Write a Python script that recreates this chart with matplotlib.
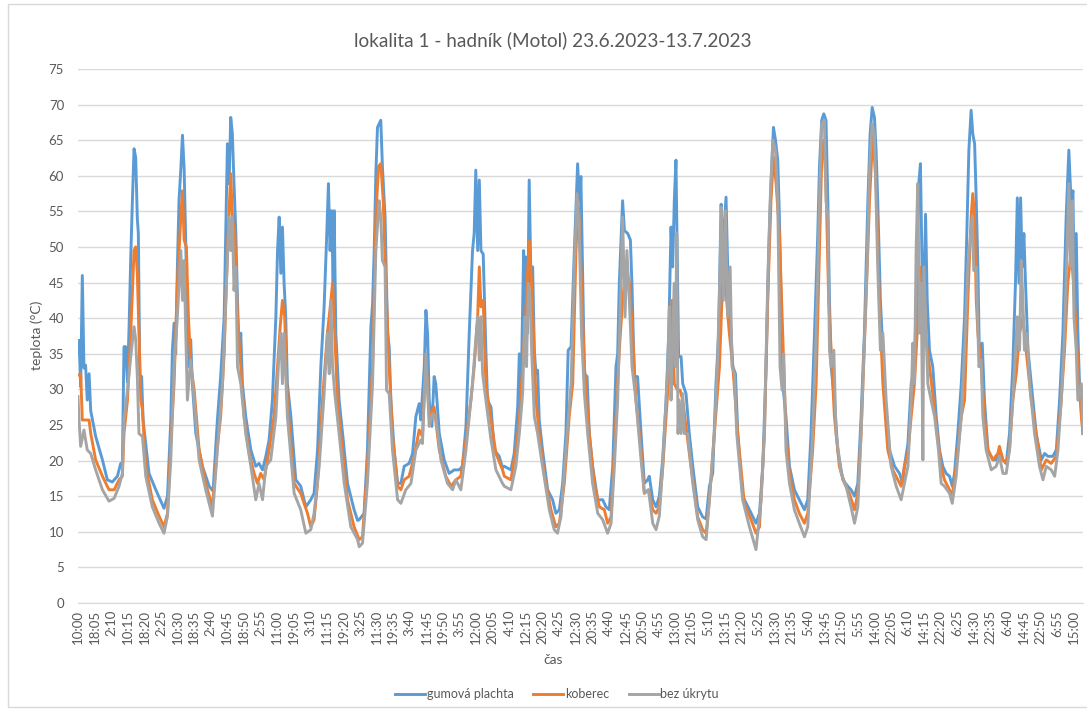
import matplotlib
matplotlib.use("Agg")
import matplotlib.pyplot as plt
from matplotlib.patches import Rectangle

# hours since 23.6.2023 10:00 , temperature in deg C
gumova = [
    (0.0, 35.5), (0.5, 36.9), (1.3, 30.4), (2.1, 46.0), (2.9, 33.0), (3.7, 33.4), (4.5, 28.5), (5.4, 32.2),
    (6.2, 27.0), (8.6, 23.4), (11.9, 20.1), (14.3, 17.3), (16.7, 17.0), (19.2, 17.8), (20.8, 19.6), (21.6, 19.2),
    (22.4, 36.0), (23.2, 36.0), (24.1, 31.0), (24.9, 39.0), (25.7, 48.6), (26.5, 56.5), (27.3, 63.8), (28.1, 62.6),
    (28.9, 54.0), (29.4, 51.9), (30.1, 32.0), (31.0, 31.8), (31.7, 25.7), (34.6, 18.2), (37.9, 15.9), (41.9, 13.3),
    (43.6, 15.0), (45.2, 25.7), (46.0, 35.5), (46.8, 39.3), (47.6, 35.0), (48.4, 47.0), (49.2, 56.5), (50.1, 61.0),
    (50.9, 65.7), (51.7, 61.0), (52.5, 50.5), (53.3, 38.8), (54.1, 33.2), (54.9, 37.0), (55.7, 30.8), (57.4, 23.8),
    (60.6, 19.2), (63.9, 16.4), (65.8, 15.7),
    (67.9, 25.7), (69.5, 31.8), (71.2, 40.2), (72.8, 64.5), (73.6, 58.9), (74.4, 68.2), (75.2, 65.9), (76.0, 58.9),
    (76.9, 51.9), (77.7, 42.5), (78.5, 35.0), (79.3, 37.9), (80.1, 30.8), (81.7, 26.2), (84.2, 21.5), (86.6, 19.2),
    (88.2, 19.6), (89.9, 18.7), (91.5, 20.6), (93.1, 22.9), (94.7, 28.5), (96.4, 40.2), (97.2, 49.5), (98.0, 54.2),
    (98.8, 46.3), (99.6, 52.8), (100.4, 44.9), (101.2, 40.2), (102.0, 30.8), (103.7, 26.2), (106.1, 17.3),
    (108.5, 16.4), (111.0, 13.5), (113.4, 14.5), (115.0, 15.4), (116.7, 21.5), (118.3, 33.2), (119.9, 41.6),
    (121.2, 51.9), (122.0, 58.9), (122.8, 49.5), (123.5, 55.1), (124.3, 44.9), (124.8, 55.1), (125.6, 37.9),
    (127.2, 28.5), (128.9, 23.8), (131.3, 16.8), (134.5, 13.1), (136.2, 11.6),
    (137.0, 11.7), (139.4, 12.6), (141.0, 21.5), (142.7, 38.8), (143.5, 42.0), (144.3, 49.5), (145.1, 60.3),
    (145.9, 66.8), (146.7, 67.3), (147.5, 67.8), (148.3, 61.3), (149.6, 54.2), (150.8, 37.9), (151.6, 36.0),
    (152.4, 28.5), (154.0, 21.5), (155.7, 16.8), (157.3, 16.8), (158.9, 19.2), (161.3, 19.6), (163.0, 21.0),
    (164.6, 26.2), (166.2, 28.0), (167.0, 25.7), (168.7, 33.2), (169.5, 41.1), (170.3, 37.9), (171.1, 28.5),
    (172.4, 24.8), (173.5, 31.8), (174.3, 30.8), (176.0, 23.8), (178.4, 20.1), (180.8, 18.2), (183.3, 18.7),
    (185.7, 18.7), (187.3, 19.2), (189.0, 24.8), (190.6, 37.9), (192.2, 49.5), (193.0, 51.9), (193.8, 60.8),
    (194.7, 49.5), (195.5, 59.4), (196.3, 49.5), (197.4, 49.0), (198.7, 35.5), (199.5, 28.5), (201.2, 27.5),
    (202.8, 21.5), (205.2, 20.6), (206.8, 19.0),
    (207.7, 19.2), (210.9, 18.7), (212.5, 21.0), (214.2, 27.5), (215.0, 35.0), (215.8, 28.5), (217.1, 49.5),
    (217.7, 40.2), (218.2, 48.6), (219.0, 37.9), (219.8, 59.4), (220.7, 44.9), (221.5, 47.2), (222.3, 35.5),
    (223.1, 32.2), (223.9, 32.7), (224.7, 25.7), (226.3, 21.5), (228.8, 15.9), (231.2, 14.5), (232.8, 12.6),
    (234.5, 13.1), (236.1, 16.8), (237.7, 23.8), (238.8, 35.5), (240.2, 36.0), (241.8, 49.5), (242.6, 55.6),
    (243.4, 61.7), (244.2, 56.5), (245.0, 59.9), (245.8, 47.2), (246.7, 32.2), (248.0, 31.8), (249.1, 23.8),
    (250.7, 19.2), (253.2, 14.5), (255.6, 14.5), (257.2, 13.5), (258.8, 13.1), (260.5, 19.2), (262.1, 33.2),
    (262.9, 35.0), (263.7, 44.9), (265.3, 56.5), (266.2, 52.3), (267.8, 51.9), (269.1, 51.0), (269.9, 44.5),
    (271.0, 31.8), (272.6, 31.8), (274.3, 23.8), (275.9, 16.8), (277.5, 17.3), (278.3, 17.8),
    (280.0, 14.5), (281.6, 13.5), (283.2, 15.0), (284.8, 20.1), (286.5, 28.5), (287.8, 37.9), (288.9, 52.8),
    (289.7, 47.2), (290.5, 56.5), (291.3, 62.2), (291.8, 51.9), (292.6, 34.6), (293.8, 34.6), (294.6, 30.8),
    (296.2, 29.4), (297.8, 23.8), (299.5, 19.2), (301.9, 13.5), (304.3, 12.1), (306.0, 11.8), (307.6, 16.4),
    (309.2, 18.2), (310.8, 30.8), (312.1, 37.9), (313.3, 56.0), (314.1, 49.5), (315.7, 57.0), (316.5, 47.2),
    (317.3, 42.5), (319.0, 33.2), (320.3, 32.2), (321.4, 23.8), (323.8, 15.0), (327.1, 13.1), (330.3, 11.2),
    (332.0, 12.6), (333.6, 19.2), (335.2, 33.2), (336.5, 49.5), (337.6, 58.9), (338.8, 66.8), (339.8, 65.0),
    (340.9, 62.2), (341.7, 54.2), (342.5, 42.5), (343.3, 30.8), (344.9, 26.2), (346.6, 19.2), (349.0, 15.9),
    (351.4, 14.5), (353.9, 13.1), (355.5, 14.5), (357.1, 23.8), (358.8, 37.9), (360.4, 51.9), (361.2, 61.2),
    (362.3, 67.8), (363.3, 68.7), (364.4, 67.8), (365.3, 56.5), (366.1, 42.5), (366.9, 33.2), (368.5, 28.5),
    (370.1, 21.5), (372.6, 17.3), (375.0, 16.4), (376.6, 15.9), (378.3, 15.0), (379.9, 16.8), (381.5, 26.2),
    (383.1, 37.9), (384.8, 56.5), (385.9, 65.9), (386.9, 69.6), (388.0, 68.2), (388.8, 63.6), (389.6, 56.5),
    (390.9, 42.5), (392.1, 35.5), (393.7, 26.2), (395.3, 21.5), (397.8, 19.2), (400.2, 18.2), (401.8, 16.8),
    (402.6, 19.2), (404.3, 22.4), (405.9, 30.8), (407.5, 33.2), (408.8, 47.2), (409.6, 58.9), (410.4, 61.7),
    (411.2, 47.2), (412.1, 42.5), (412.9, 54.6), (413.7, 42.5), (414.8, 35.5), (416.4, 33.2), (418.1, 26.2),
    (419.7, 21.5),
    (421.3, 19.2), (422.9, 18.2), (424.6, 17.8), (425.9, 16.4), (427.0, 18.2), (428.6, 23.8), (430.3, 30.8),
    (431.9, 40.2), (433.0, 51.9), (434.0, 63.6), (435.1, 69.2), (435.9, 65.9), (436.8, 64.5), (437.6, 56.5),
    (438.4, 47.2), (439.2, 33.2), (440.5, 36.5), (441.6, 28.5), (443.3, 21.5), (445.7, 20.1), (447.3, 20.1),
    (448.9, 21.5), (450.6, 20.1), (452.2, 19.6), (453.8, 23.8), (455.4, 33.2), (456.7, 44.9), (457.6, 56.9),
    (458.4, 44.9), (459.2, 56.9), (460.0, 47.2), (460.8, 51.9), (461.6, 44.9), (462.8, 35.5), (464.4, 30.8),
    (466.8, 23.8), (469.3, 20.1), (470.9, 21.0), (472.5, 20.6), (474.9, 20.6), (476.6, 21.5), (478.2, 28.5),
    (479.8, 37.9), (481.4, 54.2), (482.7, 63.6), (483.9, 55.6), (484.7, 57.9), (485.5, 40.2), (486.3, 51.9),
    (487.1, 37.9), (487.9, 30.8), (489.6, 23.8),
]

koberec = [
    (0.0, 32.0), (1.3, 32.2), (2.1, 25.7), (3.7, 25.7), (5.4, 25.7), (6.2, 23.8), (8.6, 20.1), (11.9, 17.8),
    (15.1, 15.9), (17.6, 15.9), (20.0, 17.3), (21.6, 17.8), (22.4, 23.8), (24.1, 28.5), (25.7, 37.9), (27.3, 49.5),
    (28.1, 50.0), (28.9, 46.3), (29.7, 37.9), (30.6, 28.5), (31.4, 27.1), (33.0, 19.2), (36.2, 14.5), (39.5, 12.2),
    (41.9, 10.7), (43.6, 12.6), (45.2, 22.4), (46.8, 30.8), (48.4, 44.9), (50.1, 54.2), (50.9, 57.9), (51.7, 51.0),
    (52.8, 50.0), (53.8, 40.2), (54.9, 33.6), (56.6, 29.9), (59.0, 21.5), (62.2, 16.8), (65.5, 13.5),
    (67.9, 22.0), (69.5, 26.2), (71.2, 35.0), (72.8, 49.5), (74.4, 60.3), (75.2, 54.2), (76.4, 51.9), (77.7, 40.2),
    (79.3, 33.2), (80.9, 26.2), (83.4, 21.0), (85.8, 18.2), (87.4, 16.8), (89.0, 18.2), (90.7, 17.3), (93.1, 21.5),
    (95.5, 26.2), (97.2, 33.2), (98.5, 38.8), (99.6, 42.5), (100.7, 40.2), (102.0, 28.5), (105.3, 16.8),
    (108.5, 15.4), (111.8, 12.6), (113.4, 10.7), (115.0, 11.7), (116.7, 16.8), (119.1, 28.5), (121.5, 37.9),
    (123.2, 42.5), (124.0, 44.9), (125.1, 37.9), (126.4, 28.5), (128.0, 23.8), (131.3, 14.5), (134.5, 10.7),
    (136.2, 9.5),
    (137.0, 8.9), (138.6, 9.3), (141.0, 19.2), (143.5, 33.2), (145.1, 54.2), (146.4, 61.3), (147.5, 61.7),
    (148.7, 56.5), (150.0, 44.9), (151.6, 33.2), (153.2, 23.8), (155.7, 16.4), (157.3, 15.9), (158.9, 17.3),
    (161.3, 17.8), (163.8, 20.6), (166.2, 24.3), (167.8, 23.4), (169.5, 34.6), (171.1, 26.2), (173.5, 27.5),
    (176.0, 21.5), (179.2, 17.8), (181.7, 16.4), (184.1, 17.3), (186.5, 17.8), (189.0, 22.9), (191.4, 28.5),
    (193.0, 33.2), (194.7, 40.2), (195.5, 47.2), (196.3, 41.6), (197.4, 42.5), (198.7, 30.8), (201.2, 25.7),
    (203.6, 21.0), (206.8, 18.7),
    (207.7, 17.8), (210.9, 17.3), (213.3, 21.5), (215.0, 25.7), (216.6, 33.2), (218.2, 41.1), (219.8, 50.9),
    (220.7, 46.3), (221.9, 37.9), (223.1, 28.5), (224.7, 23.8), (227.1, 18.2), (230.4, 13.1), (232.8, 10.7),
    (234.5, 11.2), (236.9, 16.8), (239.3, 26.2), (241.0, 30.8), (242.6, 49.5), (243.7, 56.5), (245.0, 47.2),
    (246.7, 33.2), (249.1, 23.8), (251.5, 16.8), (254.0, 13.5), (256.4, 13.1), (258.0, 11.2), (259.7, 12.1),
    (261.3, 21.5), (263.7, 35.5), (265.3, 42.5), (267.0, 47.2), (268.6, 44.9), (270.2, 37.9), (271.8, 28.5),
    (274.3, 21.5), (275.9, 15.4), (277.9, 15.9),
    (280.0, 13.1), (281.6, 12.6), (283.2, 13.5), (284.8, 18.7), (286.5, 26.2), (288.1, 33.2), (289.4, 42.5),
    (290.5, 30.8), (292.1, 29.9), (293.3, 29.9), (294.6, 28.5), (296.2, 24.8), (298.6, 19.2), (301.9, 12.1),
    (304.3, 10.3), (306.0, 9.8), (307.6, 14.5), (310.0, 23.8), (312.5, 33.2), (313.8, 43.5), (314.9, 51.9),
    (316.0, 42.5), (317.3, 37.9), (319.0, 33.2), (321.4, 23.8), (324.6, 14.0), (327.9, 11.7), (330.3, 9.8),
    (332.0, 10.7), (334.4, 23.8), (336.0, 42.5), (337.6, 56.5), (338.8, 62.6), (340.1, 58.9), (341.7, 51.9),
    (343.3, 37.9), (344.9, 23.8), (346.6, 18.2), (349.0, 14.5),
    (351.4, 12.6), (353.9, 11.2), (355.5, 12.6), (357.9, 21.5), (359.6, 30.8), (361.2, 49.5), (362.3, 62.2),
    (363.3, 65.0), (364.4, 58.9), (365.7, 42.5), (366.9, 35.5), (368.5, 26.2), (370.9, 19.2), (373.4, 16.8),
    (375.8, 15.4), (378.3, 13.1), (379.9, 15.4), (381.5, 23.8), (383.9, 42.5), (385.6, 56.5), (387.2, 65.9),
    (388.8, 58.9), (390.4, 42.5), (392.1, 30.8), (394.5, 21.5), (396.9, 18.7), (399.4, 17.3), (401.0, 16.4),
    (402.6, 19.2), (404.3, 21.0), (405.9, 26.2), (407.5, 30.8), (408.8, 37.9), (410.0, 47.2), (411.1, 42.5),
    (412.7, 37.9), (414.8, 33.2), (416.4, 29.4), (418.1, 24.8), (420.5, 19.2),
    (422.1, 17.3), (424.6, 15.9), (425.9, 15.0), (427.8, 19.2), (430.3, 26.2), (431.9, 28.5), (433.5, 42.5),
    (435.1, 54.2), (435.9, 57.5), (436.8, 54.2), (437.6, 42.5), (438.4, 37.9), (440.0, 33.2), (441.6, 26.2),
    (443.3, 21.5), (445.7, 20.1), (448.1, 21.0), (448.9, 22.0), (450.6, 20.1), (452.2, 19.6), (453.8, 21.5),
    (455.4, 28.5), (457.1, 32.2), (458.7, 37.9), (460.3, 40.2), (461.9, 35.5), (464.4, 28.5), (466.8, 23.8),
    (469.3, 18.7), (471.7, 20.1), (474.1, 19.6), (476.6, 20.6), (479.0, 28.5), (480.6, 35.5), (482.2, 44.9),
    (483.9, 49.5), (485.5, 42.5), (487.1, 33.2), (488.8, 26.2), (489.6, 23.8),
]

bez_ukrytu = [
    (0.0, 29.0), (0.5, 25.7), (0.9, 23.8), (1.3, 22.0), (2.9, 24.3), (4.5, 21.5), (6.2, 21.0), (8.6, 18.7),
    (11.9, 15.9), (15.1, 14.3), (17.6, 14.7), (20.0, 16.4), (21.6, 18.2), (22.4, 25.7), (24.1, 29.9), (25.7, 34.6),
    (27.3, 38.8), (28.1, 37.0), (28.9, 31.8), (29.7, 23.8), (31.4, 23.4), (33.0, 17.8), (36.2, 13.5), (39.5, 11.2),
    (41.9, 9.8), (43.6, 12.2), (45.2, 20.1), (46.8, 33.2), (48.4, 40.2), (50.1, 49.5), (50.9, 42.5), (51.7, 48.1),
    (52.5, 37.9), (53.3, 28.5), (54.9, 34.1), (56.6, 28.5), (59.0, 20.1), (62.2, 15.9), (65.5, 12.2),
    (67.9, 21.5), (70.4, 30.8), (72.0, 42.5), (73.6, 54.2), (74.4, 49.5), (75.2, 54.2), (76.0, 43.9), (76.9, 47.2),
    (77.7, 33.2), (79.3, 30.8), (81.7, 23.8), (84.2, 19.2), (86.6, 14.5), (88.2, 16.8), (89.9, 14.5), (91.5, 19.2),
    (93.9, 20.1), (96.4, 26.2), (98.0, 35.5), (98.8, 37.9), (99.6, 30.8), (100.4, 37.9), (102.0, 26.2),
    (105.3, 15.4), (108.5, 13.1), (111.0, 9.8), (113.4, 10.3), (115.0, 12.6), (117.5, 19.2), (119.9, 29.4),
    (121.5, 37.9), (122.4, 32.2), (123.2, 42.5), (124.0, 33.2), (125.1, 29.4), (127.2, 23.8), (129.7, 16.8),
    (132.9, 10.7), (136.2, 8.9),
    (137.0, 7.9), (138.6, 8.4), (141.0, 16.8), (143.5, 30.8), (145.1, 49.5), (146.7, 56.5), (147.5, 54.2),
    (148.3, 48.1), (149.6, 47.2), (150.3, 29.9), (151.6, 29.4), (153.2, 21.5), (155.7, 14.5), (157.3, 14.0),
    (159.7, 15.9), (162.2, 16.8), (164.6, 21.5), (167.0, 22.9), (167.8, 22.4), (169.5, 35.0), (171.1, 24.8),
    (172.7, 26.6), (174.3, 26.2), (176.8, 20.1), (180.0, 16.8), (182.5, 15.9), (184.1, 17.3), (186.5, 15.9),
    (189.0, 21.5), (190.6, 26.2), (192.2, 30.8), (193.8, 37.0), (194.7, 40.2), (195.5, 34.1), (196.3, 40.2),
    (197.1, 32.2), (198.7, 28.5), (201.2, 22.9), (203.6, 18.7), (206.8, 16.8),
    (207.7, 16.4), (210.9, 15.9), (213.3, 19.2), (215.0, 23.8), (216.6, 29.4), (217.7, 40.2), (218.5, 33.2),
    (219.4, 44.9), (220.3, 42.5), (221.0, 35.5), (222.3, 26.2), (223.9, 23.8), (226.3, 19.2), (229.6, 13.1),
    (232.0, 10.3), (233.6, 9.8), (235.3, 12.2), (237.7, 21.5), (240.2, 30.8), (241.8, 47.2), (243.1, 57.5),
    (244.2, 51.9), (245.3, 37.9), (246.7, 29.4), (248.3, 23.8), (250.7, 16.8), (253.2, 12.6), (255.6, 11.7),
    (258.0, 9.8), (259.7, 11.2), (261.3, 19.2), (262.9, 28.5), (264.5, 44.9), (265.3, 54.2), (266.5, 40.2),
    (267.4, 49.5), (268.6, 42.5), (269.9, 33.2), (271.8, 28.5), (274.3, 20.1), (275.9, 15.4), (277.9, 15.9),
    (280.0, 11.2), (281.6, 10.3), (283.2, 12.2), (284.8, 19.2), (286.5, 28.5), (287.3, 33.2), (288.1, 41.6),
    (288.9, 28.5), (289.7, 37.9), (290.5, 44.9), (291.0, 33.2), (291.7, 51.9), (292.3, 23.8), (292.9, 28.5),
    (293.8, 23.8), (294.6, 29.4), (295.4, 23.8), (297.0, 23.8), (299.5, 16.8), (301.9, 11.7), (304.3, 9.3),
    (306.0, 8.9), (307.6, 14.5), (310.0, 23.8), (311.6, 34.1), (312.8, 47.2), (313.4, 55.6), (314.4, 42.5),
    (315.4, 55.1), (316.5, 40.2), (317.7, 47.2), (318.6, 33.2), (319.8, 32.2), (320.9, 23.8), (323.8, 14.5),
    (327.1, 10.7), (330.3, 7.5), (332.8, 14.5), (334.4, 23.8), (336.0, 44.9), (337.2, 56.5), (338.5, 65.0),
    (339.8, 63.6), (340.9, 56.5), (342.0, 33.2), (343.0, 29.9), (343.8, 35.0), (344.9, 21.5), (346.6, 16.8),
    (349.0, 13.1),
    (351.4, 11.2), (353.9, 9.3), (355.5, 10.7), (357.9, 23.8), (359.6, 37.9), (360.4, 46.3), (361.2, 56.5),
    (362.3, 67.3), (363.6, 67.8), (364.4, 56.5), (365.3, 54.2), (366.1, 35.5), (366.9, 33.2), (368.2, 35.5),
    (369.3, 23.8), (371.8, 18.2), (374.2, 16.4), (376.6, 13.5), (378.3, 11.2), (379.9, 13.5), (381.5, 23.8),
    (383.5, 40.2), (384.4, 47.2), (385.6, 61.2), (386.9, 67.3), (388.0, 65.9), (389.6, 47.2), (390.9, 35.5),
    (392.1, 37.9), (393.7, 28.5), (396.1, 19.2), (398.6, 16.4), (401.0, 14.5), (402.6, 16.8), (404.3, 19.2),
    (405.9, 28.5), (406.7, 36.5), (407.5, 30.8), (408.3, 49.5), (409.1, 58.9), (410.0, 37.9), (410.8, 44.9),
    (411.6, 20.1), (412.1, 47.2), (413.2, 37.9), (414.0, 30.8), (415.6, 28.5), (417.3, 26.2), (419.2, 21.5),
    (420.5, 16.8),
    (422.1, 16.4), (424.6, 15.4), (425.9, 14.0), (427.8, 17.8), (430.3, 26.2), (431.9, 35.5), (433.5, 47.2),
    (434.6, 50.9), (435.6, 54.2), (436.4, 46.7), (437.6, 47.2), (438.9, 33.2), (440.0, 34.1), (440.8, 26.2),
    (442.4, 21.5), (444.9, 18.7), (447.3, 19.2), (448.9, 20.6), (450.6, 18.2), (452.2, 18.2), (453.8, 21.5),
    (455.4, 28.5), (456.7, 35.5), (457.6, 40.2), (458.7, 35.5), (459.5, 48.1), (460.3, 42.5), (461.1, 35.5),
    (462.3, 37.9), (463.6, 30.8), (466.0, 23.8), (468.4, 19.2), (470.1, 17.3), (471.7, 19.2), (474.1, 18.7),
    (475.8, 17.8), (477.4, 21.5), (479.0, 28.5), (480.6, 37.9), (481.8, 49.5), (482.7, 58.9), (483.5, 47.2),
    (484.4, 56.5), (485.2, 40.2), (486.3, 35.5), (487.1, 28.5), (488.8, 30.8), (489.6, 23.8),
]

tick_labels = [
    "10:00", "18:05", "2:10", "10:15", "18:20", "2:25", "10:30", "18:35", "2:40", "10:45", "18:50", "2:55",
    "11:00", "19:05", "3:10", "11:15", "19:20", "3:25", "11:30", "19:35", "3:40", "11:45", "19:50", "3:55",
    "12:00", "20:05", "4:10", "12:15", "20:20", "4:25", "12:30", "20:35", "4:40", "12:45", "20:50", "4:55",
    "13:00", "21:05", "5:10", "13:15", "21:20", "5:25", "13:30", "21:35", "5:40", "13:45", "21:50", "5:55",
    "14:00", "22:05", "6:10", "14:15", "22:20", "6:25", "14:30", "22:35", "6:40", "14:45", "22:50", "6:55",
    "15:00",
]
label_step = 8 + 5 / 60  # hours between labels

series = [("gumová plachta", gumova, "#5B9BD5"),
          ("koberec", koberec, "#ED7D31"),
          ("bez úkrytu", bez_ukrytu, "#A5A5A5")]

plt.rcParams['font.family'] = ['Lato', 'DejaVu Sans']
txt = "#595959"

fig = plt.figure(figsize=(10.87, 7.11), dpi=100)
fig.patches.append(Rectangle((8 / 1087, 4 / 711), 1.0, 703 / 711, transform=fig.transFigure,
                             fill=False, edgecolor="#D9D9D9", lw=1))
ax = fig.add_axes([78 / 1087, 1 - 603 / 711, 1005 / 1087, 534 / 711])

for name, data, col in series:
    t = [p[0] for p in data]
    v = [p[1] for p in data]
    ax.plot(t, v, color=col, lw=2.1, label=name, solid_joinstyle="round")

ax.set_ylim(0, 75)
ax.set_yticks(range(0, 80, 5))
ax.set_xlim(0, gumova[-1][0])
ax.set_xticks([i * label_step for i in range(len(tick_labels))])
ax.set_xticklabels(tick_labels, rotation=90)
ax.grid(axis="y", color="#D9D9D9", lw=1)
ax.set_axisbelow(True)
for s in ["top", "right", "left"]:
    ax.spines[s].set_visible(False)
ax.spines["bottom"].set_color("#D9D9D9")
ax.tick_params(length=0, colors=txt, labelsize=9.5)
ax.tick_params(axis="x", pad=5)
ax.tick_params(axis="y", pad=10)

fig.text(553 / 1087, 1 - 40 / 711, "lokalita 1 - hadník (Motol) 23.6.2023-13.7.2023",
         ha="center", va="center", fontsize=13.7, color=txt)
fig.text(37 / 1087, 1 - 335 / 711, "teplota (°C)", rotation=90, ha="center", va="center",
         fontsize=10, color=txt)
fig.text(553 / 1087, 1 - 660 / 711, "čas", ha="center", va="center", fontsize=10, color=txt)
fig.legend(loc="center", bbox_to_anchor=(557 / 1087, 1 - 694 / 711), ncol=3, frameon=False,
           fontsize=9, handlelength=2.4, columnspacing=1.6, handletextpad=0.1, labelcolor=txt)

fig.savefig("out.png", dpi=100)
